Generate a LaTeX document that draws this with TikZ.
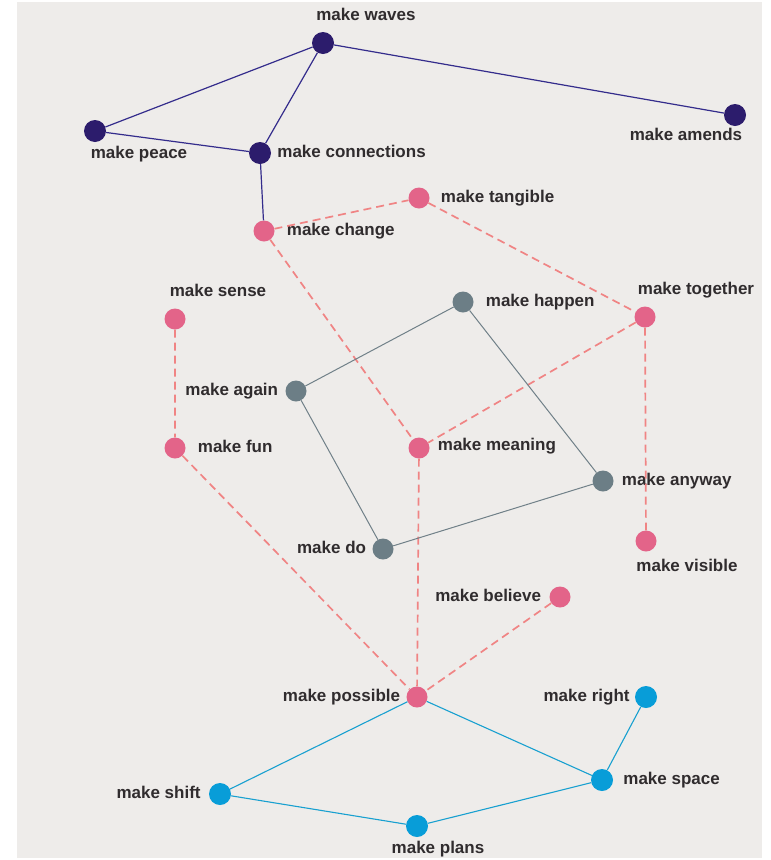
\documentclass[tikz,border=0pt]{standalone}
\usepackage{fontspec}
\setmainfont{Liberation Sans}
\usetikzlibrary{positioning}
\definecolor{paper}{RGB}{238,236,234}
\definecolor{ink}{RGB}{48,44,46}
\definecolor{navy}{RGB}{44,28,108}
\definecolor{navyl}{RGB}{52,44,140}
\definecolor{rose}{RGB}{227,100,137}
\definecolor{salmon}{RGB}{240,132,132}
\definecolor{slate}{RGB}{108,126,134}
\definecolor{slatel}{RGB}{112,128,136}
\definecolor{sky}{RGB}{8,157,216}
\definecolor{skyl}{RGB}{24,160,208}
\begin{document}
\begin{tikzpicture}[x=1pt, y=-1pt,
        dot/.style={circle, minimum size=21pt, inner sep=0pt},
        navydot/.style={dot, fill=navy, minimum size=22pt},
        pinkdot/.style={dot, fill=rose},
        greydot/.style={dot, fill=slate},
        cyandot/.style={dot, fill=sky, minimum size=22pt},
        lbl/.style={font=\fontsize{17}{20}\selectfont\bfseries, text=ink,
          inner sep=0pt, text height=12pt, text depth=4pt},
        every label/.style={lbl}, label distance=8pt,
        navyline/.style={draw=navyl, line width=1.2pt},
        pinkline/.style={draw=salmon, line width=1.7pt, dash pattern=on 8pt off 5pt},
        greyline/.style={draw=slatel, line width=1pt},
        cyanline/.style={draw=skyl, line width=1.1pt}
        ]
        \useasboundingbox (0,0) rectangle (771,860);
        \fill[paper] (17,2) rectangle (762,858);
        \node[navydot] (waves) at (323,43) [label={[xshift=43pt, label distance=7pt]above:make waves}] {};
        \node[navydot] (peace) at (95,131) [label={[xshift=44pt, label distance=4pt]below:make peace}] {};
        \node[navydot] (amends) at (735,115) [label={[xshift=-49pt, label distance=2pt]below:make amends}] {};
        \node[navydot] (connections) at (260,153) [label={[label distance=6pt]right:make connections}] {};
        \node[pinkdot] (change) at (264,231) [label={[label distance=12pt]right:make change}] {};
        \node[pinkdot] (tangible) at (419,198) [label={[label distance=11pt]right:make tangible}] {};
        \node[pinkdot] (sense) at (175,319) [label={[xshift=43pt, label distance=8pt]above:make sense}] {};
        \node[greydot] (happen) at (463,302) [label={[label distance=12pt]right:make happen}] {};
        \node[pinkdot] (together) at (645,317) [label={[xshift=51pt, label distance=8pt]above:make together}] {};
        \node[greydot] (again) at (296,391) [label={[label distance=7pt]left:make again}] {};
        \node[pinkdot] (fun) at (175,448) [label={[label distance=12pt]right:make fun}] {};
        \node[pinkdot] (meaning) at (419,448) [label={[label distance=8pt, yshift=2pt]right:make meaning}] {};
        \node[greydot] (anyway) at (603,481) [label={[label distance=8pt]right:make anyway}] {};
        \node[greydot] (do) at (383,549) [label={[label distance=6pt]left:make do}] {};
        \node[pinkdot] (visible) at (646,541) [label={[xshift=41pt, label distance=8pt]below:make visible}] {};
        \node[pinkdot] (believe) at (560,597) [label={[label distance=8pt]left:make believe}] {};
        \node[pinkdot] (possible) at (417,697) [label={[label distance=6pt]left:make possible}] {};
        \node[cyandot] (right) at (646,697) [label={[label distance=5pt]left:make right}] {};
        \node[cyandot] (space) at (602,780) [label={[label distance=10pt]right:make space}] {};
        \node[cyandot] (shift) at (220,794) [label={[label distance=8pt]left:make shift}] {};
        \node[cyandot] (plans) at (417,826) [label={[xshift=21pt, label distance=4pt]below:make plans}] {};
        \draw[navyline] (waves) -- (peace) (waves) -- (connections) (waves) -- (amends)
          (peace) -- (connections) (connections) -- (change);
        \draw[pinkline] (change) -- (tangible) (tangible) -- (together) (change) -- (meaning)
          (together) -- (meaning) (together) -- (visible) (sense) -- (fun)
          (fun) -- (possible) (meaning) -- (possible) (believe) -- (possible);
        \draw[greyline] (happen) -- (again) -- (do) -- (anyway) -- (happen);
        \draw[cyanline] (possible) -- (shift) -- (plans) -- (space) -- (possible) (space) -- (right);
      \end{tikzpicture}
\end{document}
